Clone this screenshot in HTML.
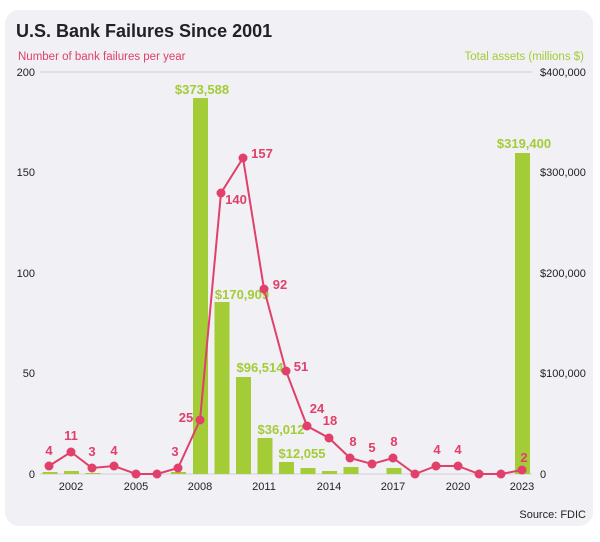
<!DOCTYPE html><html><head><style>
body{margin:0;background:#fff;width:600px;height:537px;overflow:hidden}
</style></head><body>
<svg width="600" height="537" xmlns="http://www.w3.org/2000/svg" font-family="Liberation Sans, sans-serif">
<rect x="5" y="10" width="588" height="516" rx="14" fill="#f0f0f5"/>
<text x="16" y="37" font-size="18" font-weight="bold" fill="#222">U.S. Bank Failures Since 2001</text>
<text x="18" y="60" font-size="11.5" fill="#e0406a">Number of bank failures per year</text>
<text x="584" y="60" font-size="11.5" fill="#a3cc36" text-anchor="end">Total assets (millions $)</text>
<g stroke="#cfcfd6" stroke-width="1">
<line x1="40" y1="72" x2="532" y2="72"/><line x1="40" y1="474" x2="532" y2="474"/>
</g>
<g font-size="11" fill="#222">
<text x="35" y="76" text-anchor="end">200</text>
<text x="35" y="176" text-anchor="end">150</text>
<text x="35" y="277" text-anchor="end">100</text>
<text x="35" y="377" text-anchor="end">50</text>
<text x="35" y="478" text-anchor="end">0</text>
<text x="540" y="76">$400,000</text>
<text x="540" y="176">$300,000</text>
<text x="540" y="277">$200,000</text>
<text x="540" y="377">$100,000</text>
<text x="540" y="478">0</text>
<g text-anchor="middle"><text x="71" y="490">2002</text><text x="136" y="490">2005</text><text x="200" y="490">2008</text><text x="264" y="490">2011</text><text x="329" y="490">2014</text><text x="393" y="490">2017</text><text x="458" y="490">2020</text><text x="522" y="490">2023</text></g>
<text x="586" y="518" text-anchor="end">Source: FDIC</text>
</g>
<g fill="#a3cc36">
<rect x="42.5" y="472" width="15" height="2"/>
<rect x="64" y="471" width="15" height="3"/>
<rect x="85.5" y="473" width="15" height="1"/>
<rect x="171" y="472" width="15" height="2"/>
<rect x="193" y="98" width="15" height="376"/>
<rect x="214.5" y="302" width="15" height="172"/>
<rect x="236" y="377" width="15" height="97"/>
<rect x="257.5" y="438" width="15" height="36"/>
<rect x="279" y="462" width="15" height="12"/>
<rect x="300.5" y="468" width="15" height="6"/>
<rect x="322" y="471" width="15" height="3"/>
<rect x="343.5" y="467" width="15" height="7"/>
<rect x="386.5" y="468" width="15" height="6"/>
<rect x="515" y="153" width="15" height="321"/>
</g>
<g font-size="13" font-weight="bold" fill="#a3cc36" text-anchor="middle">
<text x="202" y="94">$373,588</text>
<text x="242" y="299">$170,909</text>
<text x="260" y="372">$96,514</text>
<text x="281" y="434">$36,012</text>
<text x="302" y="458">$12,055</text>
<text x="524" y="148">$319,400</text>
</g>
<polyline fill="none" stroke="#e0406a" stroke-width="2" points="49,466 71,452 92,468 114,466 136,474 157,474 178,468 200,420 221,193 243,158 264,289 286,371 307,426 329,438 350,458 372,464 393,458 415,474 436,466 458,466 479,474 501,474 522,470"/>
<g fill="#e0406a">
<circle cx="49" cy="466" r="4.5"/><circle cx="71" cy="452" r="4.5"/><circle cx="92" cy="468" r="4.5"/><circle cx="114" cy="466" r="4.5"/><circle cx="136" cy="474" r="4.5"/><circle cx="157" cy="474" r="4.5"/><circle cx="178" cy="468" r="4.5"/><circle cx="200" cy="420" r="4.5"/><circle cx="221" cy="193" r="4.5"/><circle cx="243" cy="158" r="4.5"/><circle cx="264" cy="289" r="4.5"/><circle cx="286" cy="371" r="4.5"/><circle cx="307" cy="426" r="4.5"/><circle cx="329" cy="438" r="4.5"/><circle cx="350" cy="458" r="4.5"/><circle cx="372" cy="464" r="4.5"/><circle cx="393" cy="458" r="4.5"/><circle cx="415" cy="474" r="4.5"/><circle cx="436" cy="466" r="4.5"/><circle cx="458" cy="466" r="4.5"/><circle cx="479" cy="474" r="4.5"/><circle cx="501" cy="474" r="4.5"/><circle cx="522" cy="470" r="4.5"/>
</g>
<g font-size="13" font-weight="bold" fill="#e0406a" text-anchor="middle">
<text x="49" y="455">4</text><text x="71" y="440">11</text><text x="92" y="456">3</text><text x="114" y="455">4</text><text x="175" y="456">3</text><text x="186" y="422">25</text>
<text x="236" y="204">140</text><text x="262" y="158">157</text><text x="280" y="289">92</text><text x="301" y="371">51</text><text x="317" y="413">24</text><text x="330" y="425">18</text><text x="353" y="446">8</text><text x="372" y="452">5</text><text x="394" y="446">8</text><text x="437" y="454">4</text><text x="458" y="454">4</text><text x="524" y="462">2</text>
</g>
</svg>
</body></html>
